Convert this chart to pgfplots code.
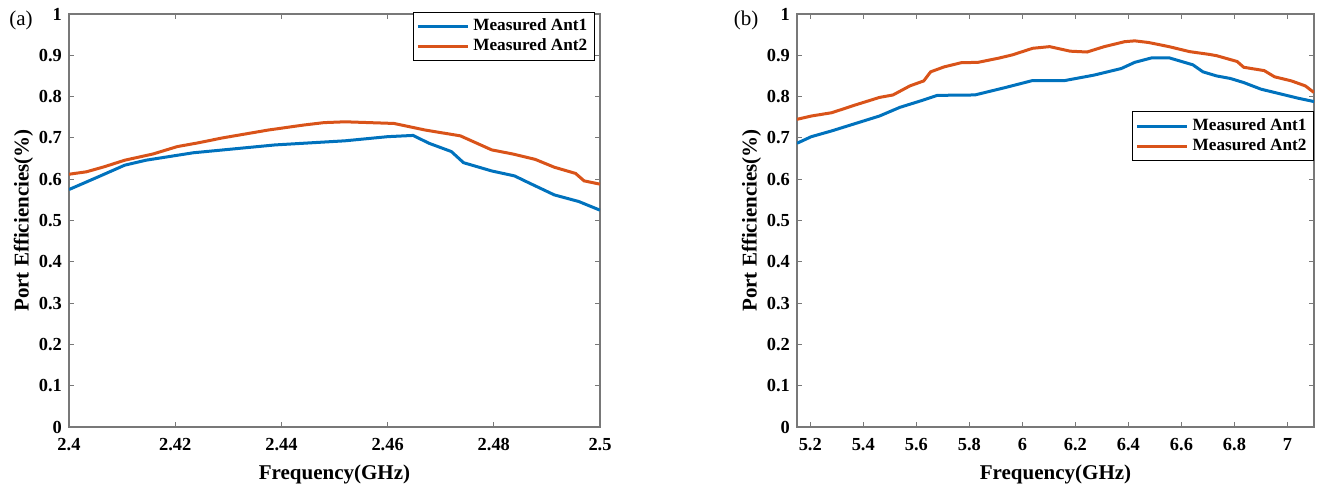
\documentclass[border=0pt]{standalone}
\usepackage{fontspec}
\setmainfont{Liberation Serif}
\usepackage{pgfplots}
\pgfplotsset{compat=1.18}
\definecolor{mblue}{RGB}{0,114,189}
\definecolor{morange}{RGB}{217,83,25}
\definecolor{axgray}{RGB}{120,120,120}
\pgfplotsset{
  myaxis/.style={
    scale only axis,
    height=206.5pt,
    ymin=0, ymax=1,
    ytick={0,0.1,0.2,0.3,0.4,0.5,0.6,0.7,0.8,0.9,1},
    yticklabels={0,0.1,0.2,0.3,0.4,0.5,0.6,0.7,0.8,0.9,1},
    tick align=inside,
    major tick length=2.5pt,
    axis line style={axgray, line width=0.6pt},
    every tick/.style={axgray, line width=0.5pt},
    tick label style={font=\fontsize{9.2}{10}\selectfont\bfseries, black},
    xticklabel style={yshift=-2pt},
    label style={font=\fontsize{10.5}{12}\selectfont\bfseries},
    xlabel style={yshift=-0.5pt},
    ylabel shift=-4pt,
    xlabel={Frequency(GHz)},
    ylabel={Port Efficiencies(\%)},
    legend cell align=left,
    legend style={draw=black, line width=0.5pt, font=\fontsize{8.6}{10}\selectfont\bfseries,
      inner sep=1.5pt, row sep=-1.5pt},
    legend image code/.code={\draw[#1] (0pt,0pt) -- (25pt,0pt);},
    every axis plot/.append style={line width=1.5pt},
  }
}
\begin{document}
\begin{tikzpicture}
\useasboundingbox (0,0) rectangle (660pt,242pt);
\begin{axis}[myaxis,
  at={(34.5pt,28.5pt)}, anchor=south west,
  width=265.5pt,
  xmin=2.4, xmax=2.5,
  xtick={2.4,2.42,2.44,2.46,2.48,2.5},
  xticklabels={2.4,2.42,2.44,2.46,2.48,2.5},
  legend style={at={(rel axis cs:0.99,1.006)}, anchor=north east},
]
\addplot[mblue] coordinates {
(2.400,0.575) (2.4052,0.604) (2.4105,0.634) (2.4145,0.646) (2.4234,0.664) (2.4388,0.683)
(2.452,0.693) (2.460,0.703) (2.4648,0.706) (2.4678,0.687) (2.472,0.667)
(2.4743,0.640) (2.4796,0.620) (2.4839,0.608) (2.4868,0.590) (2.4914,0.562)
(2.496,0.546) (2.500,0.525)};
\addlegendentry{Measured Ant1}
\addplot[morange] coordinates {
(2.400,0.612) (2.4033,0.618) (2.4066,0.630) (2.4105,0.646) (2.4158,0.661)
(2.4204,0.679) (2.4243,0.688) (2.4289,0.700) (2.4375,0.719) (2.4441,0.731)
(2.4480,0.737) (2.4520,0.739) (2.4612,0.735) (2.4671,0.719) (2.4737,0.705)
(2.4796,0.671) (2.4836,0.661) (2.4878,0.648) (2.4914,0.629) (2.4954,0.614)
(2.4970,0.596) (2.500,0.588)};
\addlegendentry{Measured Ant2}
\end{axis}
\node[font=\fontsize{10.5}{12}\selectfont] at (10.5pt,232pt) {(a)};
\begin{axis}[myaxis,
  at={(398.5pt,28.5pt)}, anchor=south west,
  width=258.5pt,
  xmin=5.15, xmax=7.1,
  xtick={5.2,5.4,5.6,5.8,6,6.2,6.4,6.6,6.8,7},
  xticklabels={5.2,5.4,5.6,5.8,6,6.2,6.4,6.6,6.8,7},
  legend style={at={(rel axis cs:1,0.764)}, anchor=north east},
]
\addplot[mblue] coordinates {
(5.150,0.687) (5.204,0.703) (5.281,0.717) (5.371,0.735) (5.461,0.753)
(5.538,0.774) (5.628,0.792) (5.679,0.803) (5.821,0.804) (5.936,0.822)
(6.039,0.839) (6.161,0.839) (6.270,0.852) (6.373,0.868) (6.424,0.883)
(6.489,0.894) (6.553,0.894) (6.643,0.877) (6.681,0.860) (6.733,0.850)
(6.784,0.844) (6.835,0.834) (6.900,0.818) (6.977,0.806) (7.041,0.796)
(7.100,0.788)};
\addlegendentry{Measured Ant1}
\addplot[morange] coordinates {
(5.150,0.745) (5.204,0.753) (5.281,0.761) (5.371,0.780) (5.461,0.798)
(5.512,0.804) (5.576,0.826) (5.628,0.838) (5.654,0.860) (5.705,0.872)
(5.769,0.882) (5.833,0.883) (5.910,0.893) (5.962,0.901) (6.039,0.917)
(6.103,0.921) (6.180,0.910) (6.244,0.908) (6.309,0.921) (6.386,0.933)
(6.424,0.935) (6.476,0.931) (6.553,0.921) (6.630,0.909) (6.707,0.902)
(6.733,0.899) (6.810,0.885) (6.835,0.871) (6.912,0.863) (6.951,0.848)
(7.015,0.838) (7.067,0.826) (7.100,0.810)};
\addlegendentry{Measured Ant2}
\end{axis}
\node[font=\fontsize{10.5}{12}\selectfont] at (373pt,232pt) {(b)};
\end{tikzpicture}
\end{document}
